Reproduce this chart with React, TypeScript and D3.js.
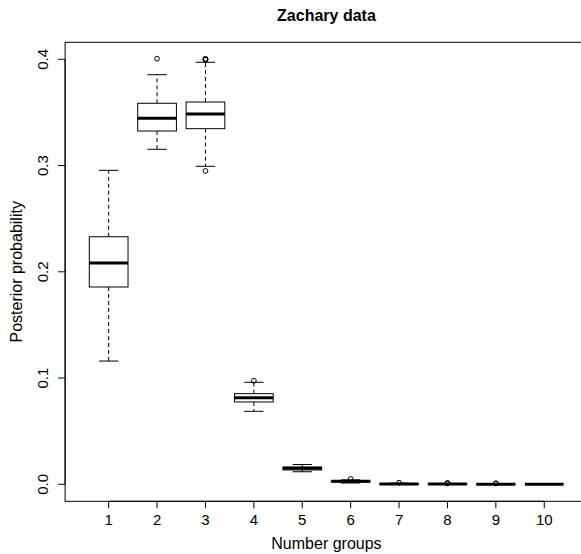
import React from "react";
import * as d3 from "d3";

// values
const groups = [1, 2, 3, 4, 5, 6, 7, 8, 9, 10];
const lowerWhisker = [0.116, 0.3153, 0.2993, 0.0687, 0.0118, 0.0012, 0.0, 0.0, 0.0, 0.0];
const q1 = [0.1857, 0.3325, 0.3347, 0.0775, 0.0135, 0.0021, 0.0002, 0.0001, 0.0, 0.0];
const medians = [0.2083, 0.3445, 0.3485, 0.0815, 0.015, 0.0028, 0.0004, 0.0002, 0.0001, 0.0];
const q3 = [0.233, 0.3586, 0.3598, 0.0853, 0.0162, 0.0033, 0.0007, 0.0003, 0.0003, 0.0];
const upperWhisker = [0.2955, 0.3855, 0.3972, 0.096, 0.0186, 0.0042, 0.0011, 0.0006, 0.0005, 0.0];
const outliers = [
  [],
  [0.4006],
  [0.3995, 0.4, 0.4005, 0.2949],
  [0.0975],
  [],
  [0.005],
  [0.0015],
  [0.0009, 0.001, 0.0011],
  [0.0008, 0.0009],
  [],
];
const yTicks = [0.0, 0.1, 0.2, 0.3, 0.4];

const title = "Zachary data";
const xTitle = "Number groups";
const yTitle = "Posterior probability";

const W = 581;
const H = 554;
const font = "'Liberation Sans', Arial, Helvetica, sans-serif";

export default function App() {
  // plot region (R style: xlim 0.5..10.5 and ylim extended by 4%)
  const left = 65.1;
  const top = 42.3;
  const bottom = 501.3;
  const unit = 48.4;
  const right = left + 10.8 * unit;

  const x = d3.scaleLinear().domain([0.1, 10.9]).range([left, right]);
  const y = d3.scaleLinear().domain([-0.016, 0.416]).range([bottom, top]);

  const boxW = 0.8 * unit;
  const capW = boxW / 2;

  return (
    <svg
      width={W}
      height={H}
      style={{ position: "absolute", left: 0, top: 0, background: "#fff" }}
      fontFamily={font}
    >
      <rect x={0} y={0} width={W} height={H} fill="#fff" />

      {groups.map((g, i) => {
        const cx = x(g);
        return (
          <g key={g} stroke="#000" fill="none">
            {/* whiskers */}
            <line x1={cx} x2={cx} y1={y(q3[i])} y2={y(upperWhisker[i])} strokeDasharray="4,3" />
            <line x1={cx} x2={cx} y1={y(q1[i])} y2={y(lowerWhisker[i])} strokeDasharray="4,3" />
            {/* staples */}
            <line x1={cx - capW / 2} x2={cx + capW / 2} y1={y(upperWhisker[i])} y2={y(upperWhisker[i])} />
            <line x1={cx - capW / 2} x2={cx + capW / 2} y1={y(lowerWhisker[i])} y2={y(lowerWhisker[i])} />
            {/* box */}
            <rect
              x={cx - boxW / 2}
              y={y(q3[i])}
              width={boxW}
              height={Math.max(0, y(q1[i]) - y(q3[i]))}
              fill="#fff"
            />
            {/* median */}
            <line x1={cx - boxW / 2} x2={cx + boxW / 2} y1={y(medians[i])} y2={y(medians[i])} strokeWidth={3} />
            {outliers[i].map((v, j) => (
              <circle key={j} cx={cx} cy={y(v)} r={2.4} />
            ))}
          </g>
        );
      })}

      {/* frame */}
      <rect x={left} y={top} width={right - left} height={bottom - top} fill="none" stroke="#000" />

      {/* y axis */}
      <line x1={left} x2={left} y1={y(0)} y2={y(0.4)} stroke="#000" />
      {yTicks.map((t) => (
        <g key={t}>
          <line x1={left - 7} x2={left} y1={y(t)} y2={y(t)} stroke="#000" />
          <text
            transform={`translate(48.3,${y(t)}) rotate(-90)`}
            textAnchor="middle"
            fontSize={15}
            fill="#000"
          >
            {d3.format(".1f")(t)}
          </text>
        </g>
      ))}

      {/* x axis */}
      <line x1={x(1)} x2={x(10)} y1={bottom} y2={bottom} stroke="#000" />
      {groups.map((g) => (
        <g key={g}>
          <line x1={x(g)} x2={x(g)} y1={bottom} y2={bottom + 7} stroke="#000" />
          <text x={x(g)} y={525} textAnchor="middle" fontSize={15} fill="#000">
            {g}
          </text>
        </g>
      ))}

      <text x={(left + right) / 2} y={20.5} textAnchor="middle" fontSize={16} fontWeight="bold" fill="#000">
        {title}
      </text>
      <text x={(left + right) / 2} y={548.5} textAnchor="middle" fontSize={16} fill="#000">
        {xTitle}
      </text>
      <text
        transform={`translate(22,${(top + bottom) / 2}) rotate(-90)`}
        textAnchor="middle"
        fontSize={16}
        fill="#000"
      >
        {yTitle}
      </text>
    </svg>
  );
}
